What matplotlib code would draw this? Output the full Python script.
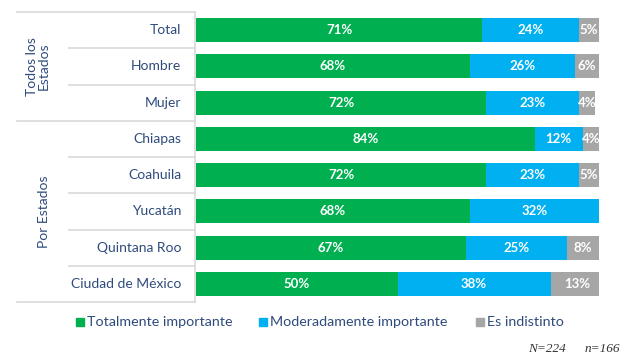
import matplotlib.pyplot as plt
from matplotlib.lines import Line2D

categories = ["Total", "Hombre", "Mujer", "Chiapas", "Coahuila", "Yucatán",
              "Quintana Roo", "Ciudad de México"]
totalmente = [71, 68, 72, 84, 72, 68, 67, 50]
moderadamente = [24, 26, 23, 12, 23, 32, 25, 38]
indistinto = [5, 6, 4, 4, 5, 0, 8, 13]
series_names = ["Totalmente importante", "Moderadamente importante", "Es indistinto"]
colors = ["#00B050", "#00B0F0", "#A6A6A6"]
groups = [("Todos los\nEstados", 0, 3), ("Por Estados", 3, 8)]

W, H = 634, 355
label_color = "#2F4B7C"
grid_color = "#D9D9D9"
plt.rcParams["font.family"] = ["Lato", "DejaVu Sans"]

fig = plt.figure(figsize=(W / 100, H / 100), dpi=100)
fig.patch.set_facecolor("white")
ax = fig.add_axes([196 / W, 1 - 302 / H, 403 / W, 290 / H])

n = len(categories)
ypos = list(range(n))
left = [0] * n
for vals, col in zip([totalmente, moderadamente, indistinto], colors):
    bars = ax.barh(ypos, vals, left=left, height=0.66, color=col, edgecolor="none")
    for b, v in zip(bars, vals):
        if v > 0:
            ax.text(b.get_x() + b.get_width() / 2, b.get_y() + b.get_height() / 2,
                    f"{v}%", ha="center", va="center", color="white",
                    fontsize=9.5, fontweight="bold")
    left = [l + v for l, v in zip(left, vals)]

ax.set_xlim(0, 100)
ax.set_ylim(n - 0.5, -0.5)
ax.axis("off")

# category labels
for i, c in enumerate(categories):
    ax.text(-3.6, i, c, ha="right", va="center", fontsize=10, color=label_color,
            clip_on=False)


def px(x, y):
    return x / W, 1 - y / H


row_h = 290 / n
top = 12
# table lines
lines = [((17, top), (195, top)), ((195, top), (195, 302)), ((17, 302), (195, 302))]
for i in range(1, n):
    y = top + i * row_h
    x0 = 17 if i == 3 else 69
    lines.append(((x0, y), (195, y)))
for (x0, y0), (x1, y1) in lines:
    a, b = px(x0, y0)
    c, d = px(x1, y1)
    fig.add_artist(Line2D([a, c], [b, d], color=grid_color, linewidth=1.2))

# group labels
for name, s, e in groups:
    yc = top + (s + e) / 2 * row_h
    xc = 38 if "\n" in name else 44
    fx, fy = px(xc, yc)
    fig.text(fx, fy, name, rotation=90, ha="center", va="center", fontsize=10,
             color=label_color, linespacing=1.0)

# legend
leg_x = [80, 263, 480]
for x, name, col in zip(leg_x, series_names, colors):
    fx, fy = px(x, 322)
    fig.patches.append(plt.Rectangle(px(x - 4, 326), 8 / W, 8 / H, color=col,
                                     transform=fig.transFigure, figure=fig))
    fig.text(fx + 7 / W, fy, name, ha="left", va="center", fontsize=10.3,
             color=label_color)

fig.text(*px(528, 349), "N=224", ha="left", va="center", fontsize=9.5,
         family="Liberation Serif", style="italic", color="#333333")
fig.text(*px(585, 349), "n=166", ha="left", va="center", fontsize=9.5,
         family="Liberation Serif", style="italic", color="#333333")

fig.savefig("out.png", dpi=100, facecolor="white")
